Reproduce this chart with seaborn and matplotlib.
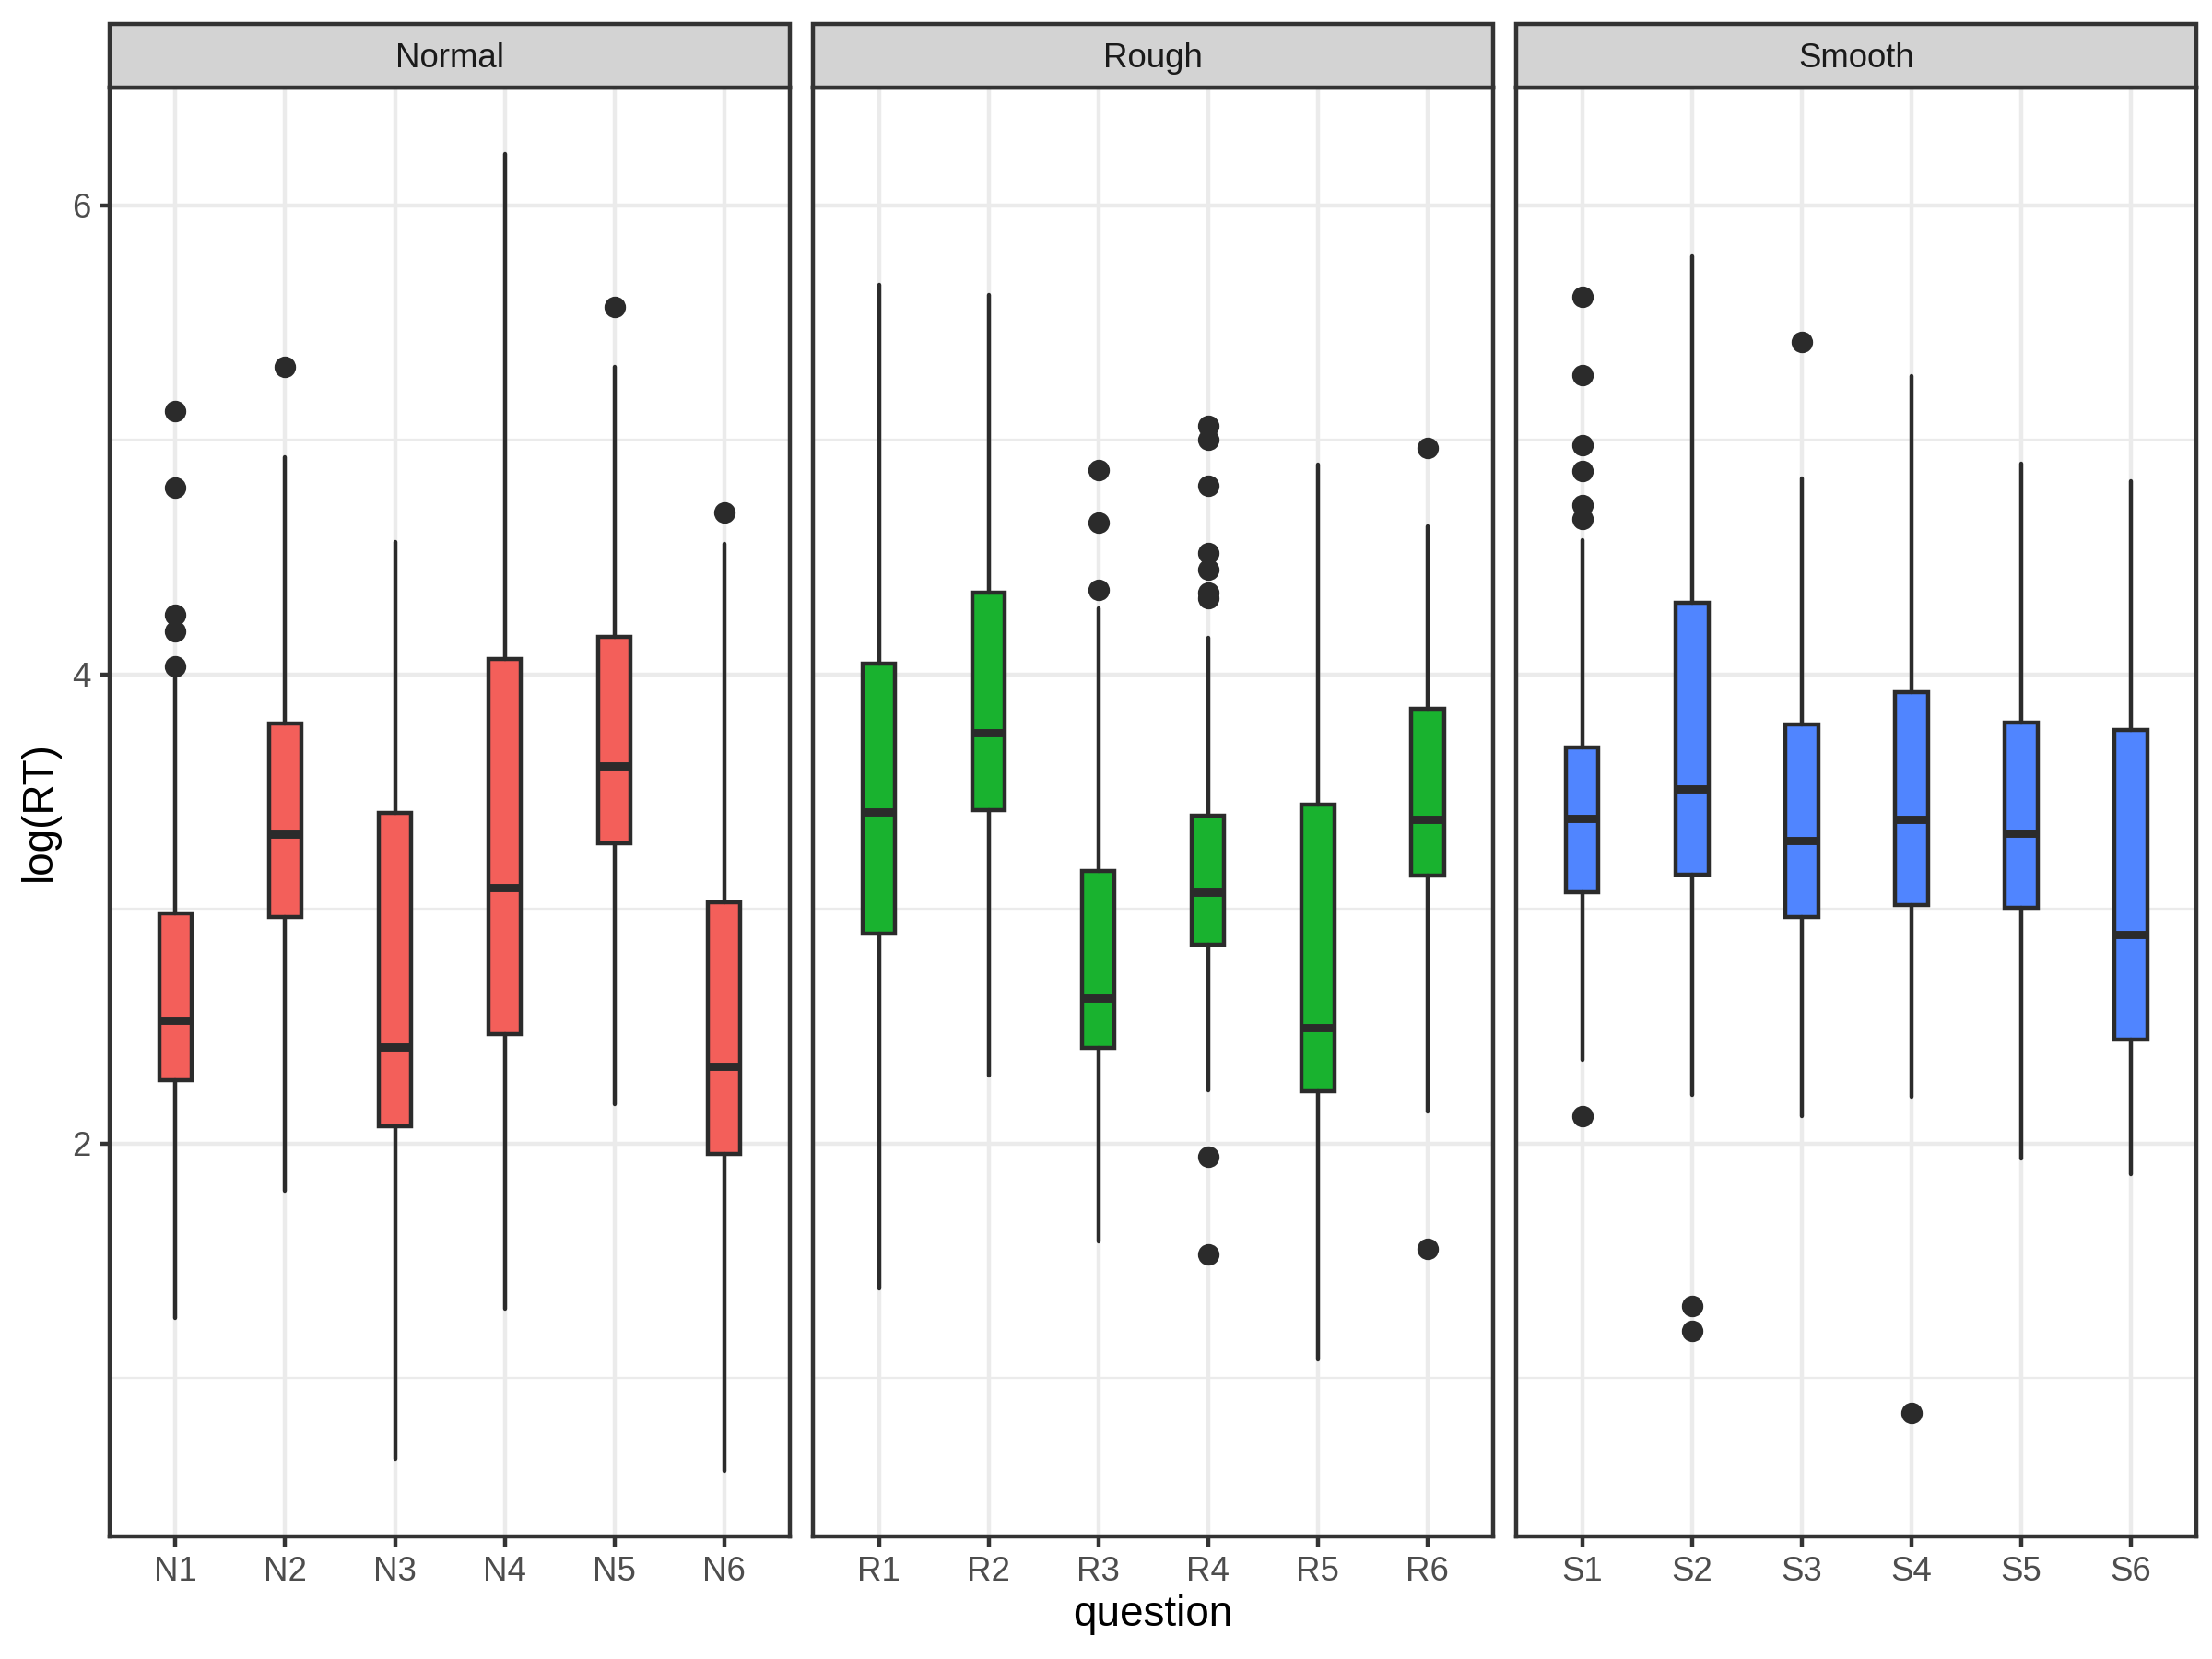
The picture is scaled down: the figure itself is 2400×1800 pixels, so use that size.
import numpy as np
import pandas as pd
import matplotlib
matplotlib.use("Agg")
import matplotlib.pyplot as plt
import seaborn as sns
from matplotlib.patches import Rectangle
from matplotlib.ticker import FixedLocator

# ---------------- data ----------------
groups = ["Normal", "Rough", "Smooth"]
group_colors = ["#F35F5A", "#19B22F", "#5085FF"]

normal_questions = ["N1", "N2", "N3", "N4", "N5", "N6"]
normal_q1 = [2.270, 2.965, 2.074, 2.466, 3.279, 1.953]
normal_med = [2.526, 3.320, 2.409, 3.090, 3.608, 2.329]
normal_q3 = [2.980, 3.790, 3.410, 4.064, 4.160, 3.027]
normal_lo = [1.257, 1.797, 0.653, 1.294, 2.168, 0.604]
normal_hi = [4.000, 4.928, 4.564, 6.220, 5.310, 4.558]
normal_fliers = [[5.124, 4.798, 4.254, 4.184, 4.034], [5.310], [], [], [5.566], [4.692]]

rough_questions = ["R1", "R2", "R3", "R4", "R5", "R6"]
rough_q1 = [2.895, 3.419, 2.405, 2.848, 2.222, 3.140]
rough_med = [3.413, 3.752, 2.618, 3.072, 2.493, 3.380]
rough_q3 = [4.044, 4.348, 3.162, 3.396, 3.444, 3.854]
rough_lo = [1.382, 2.290, 1.581, 2.228, 1.078, 2.136]
rough_hi = [5.660, 5.620, 4.280, 4.154, 4.894, 4.632]
rough_fliers = [[], [], [4.870, 4.648, 4.360],
                [5.058, 5.000, 4.804, 4.516, 4.448, 4.348, 4.324, 1.943, 1.528],
                [], [4.966, 1.552]]

smooth_questions = ["S1", "S2", "S3", "S4", "S5", "S6"]
smooth_q1 = [3.070, 3.146, 2.967, 3.018, 3.006, 2.444]
smooth_med = [3.386, 3.510, 3.292, 3.380, 3.322, 2.891]
smooth_q3 = [3.690, 4.304, 3.788, 3.924, 3.794, 3.764]
smooth_lo = [2.355, 2.205, 2.115, 2.199, 1.936, 1.867]
smooth_hi = [4.572, 5.784, 4.836, 5.274, 4.900, 4.824]
smooth_fliers = [[5.610, 5.278, 4.976, 4.866, 4.722, 4.664, 2.117],
                 [1.308, 1.201], [5.416], [0.852], [], []]

y_major = [2, 4, 6]
y_minor = [1, 3, 5]

# ---------------- build a tidy table ----------------
rows = []
for grp, qs, q1s, meds, q3s, los, his, fls in [
    ("Normal", normal_questions, normal_q1, normal_med, normal_q3, normal_lo, normal_hi, normal_fliers),
    ("Rough", rough_questions, rough_q1, rough_med, rough_q3, rough_lo, rough_hi, rough_fliers),
    ("Smooth", smooth_questions, smooth_q1, smooth_med, smooth_q3, smooth_lo, smooth_hi, smooth_fliers),
]:
    for q, a, m, b, lo, hi, f in zip(qs, q1s, meds, q3s, los, his, fls):
        rows.append(dict(group=grp, question=q, q1=a, med=m, q3=b, lo=lo, hi=hi, fliers=f))
df = pd.DataFrame(rows)

# ---------------- style ----------------
sns.set_theme(style="white")
plt.rcParams["font.family"] = ["Liberation Sans", "DejaVu Sans"]

EDGE = "#2B2B2B"
LW = 1.07
color_map = dict(zip(groups, group_colors))


def draw_boxes(data, **kws):
    ax = plt.gca()
    grp = data["group"].iloc[0]
    fill = color_map[grp]
    stats = []
    for r in data.itertuples():
        stats.append(dict(q1=r.q1, med=r.med, q3=r.q3, whislo=r.lo, whishi=r.hi,
                          fliers=np.array(r.fliers, dtype=float), label=r.question))
    pos = np.arange(len(stats))
    ax.bxp(stats, positions=pos, widths=0.3, patch_artist=True, showcaps=False,
           boxprops=dict(facecolor=fill, edgecolor=EDGE, linewidth=LW),
           medianprops=dict(color=EDGE, linewidth=2 * LW, solid_capstyle="butt"),
           whiskerprops=dict(color=EDGE, linewidth=LW),
           flierprops=dict(marker="o", markerfacecolor=EDGE, markeredgecolor=EDGE,
                           markersize=4.6, linestyle="none"),
           zorder=3)
    ax.set_xticks(pos)
    ax.set_xticklabels(list(data["question"]))
    ax.set_xlim(-0.6, len(stats) - 0.4)


g = sns.FacetGrid(df, col="group", col_order=groups, sharex=False, sharey=True,
                  despine=False, height=6, aspect=0.44)
g.map_dataframe(draw_boxes)
fig = g.figure
fig.set_size_inches(8, 6)
LEFT, RIGHT = 0.0496, 0.993
fig.subplots_adjust(left=LEFT, right=RIGHT, bottom=0.0738, top=0.947, wspace=0.034)

# y range with ggplot-like 5% expansion from data
all_vals = list(df["lo"]) + list(df["hi"]) + [v for f in df["fliers"] for v in f]
ymin, ymax = min(all_vals), max(all_vals)
pad = 0.05 * (ymax - ymin)

for i, (ax, grp) in enumerate(zip(g.axes.flat, groups)):
    ax.set_title("")
    ax.set_xlabel("")
    ax.set_ylabel("")
    ax.set_ylim(ymin - pad, ymax + pad)
    ax.yaxis.set_major_locator(FixedLocator(y_major))
    ax.yaxis.set_minor_locator(FixedLocator(y_minor))
    ax.set_axisbelow(True)
    ax.grid(True, which="major", axis="both", color="#EBEBEB", linewidth=LW)
    ax.grid(True, which="minor", axis="y", color="#EBEBEB", linewidth=LW / 2)
    ax.set_facecolor("white")
    for s in ax.spines.values():
        s.set_visible(True)
        s.set_color("#333333")
        s.set_linewidth(LW)
        s.set_zorder(5)
    ax.tick_params(axis="x", which="major", bottom=True, length=2.75, width=LW,
                   color="#333333", labelsize=8.8, labelcolor="#4D4D4D", pad=2.2)
    ax.tick_params(axis="y", which="minor", left=False, length=0)
    if i == 0:
        ax.tick_params(axis="y", which="major", left=True, length=2.75, width=LW,
                       color="#333333", labelsize=8.8, labelcolor="#4D4D4D", pad=2.2)
    else:
        ax.tick_params(axis="y", which="major", left=False, labelleft=False)
    # facet strip
    strip_h = 0.044
    ax.add_patch(Rectangle((0, 1.0), 1, strip_h, transform=ax.transAxes, clip_on=False,
                           facecolor="#D3D3D3", edgecolor="#333333", linewidth=LW, zorder=6))
    ax.text(0.5, 1.0 + strip_h / 2 - 0.002, grp, transform=ax.transAxes, ha="center",
            va="center", fontsize=8.8, color="#1A1A1A", zorder=7)

fig.text((LEFT + RIGHT) / 2, 0.0265, "question", ha="center", va="center", fontsize=11,
         color="black")
fig.text(0.018, 0.511, "log(RT)", ha="center", va="center", rotation=90, fontsize=11,
         color="black")

fig.savefig("out.png", dpi=300, facecolor="white")
